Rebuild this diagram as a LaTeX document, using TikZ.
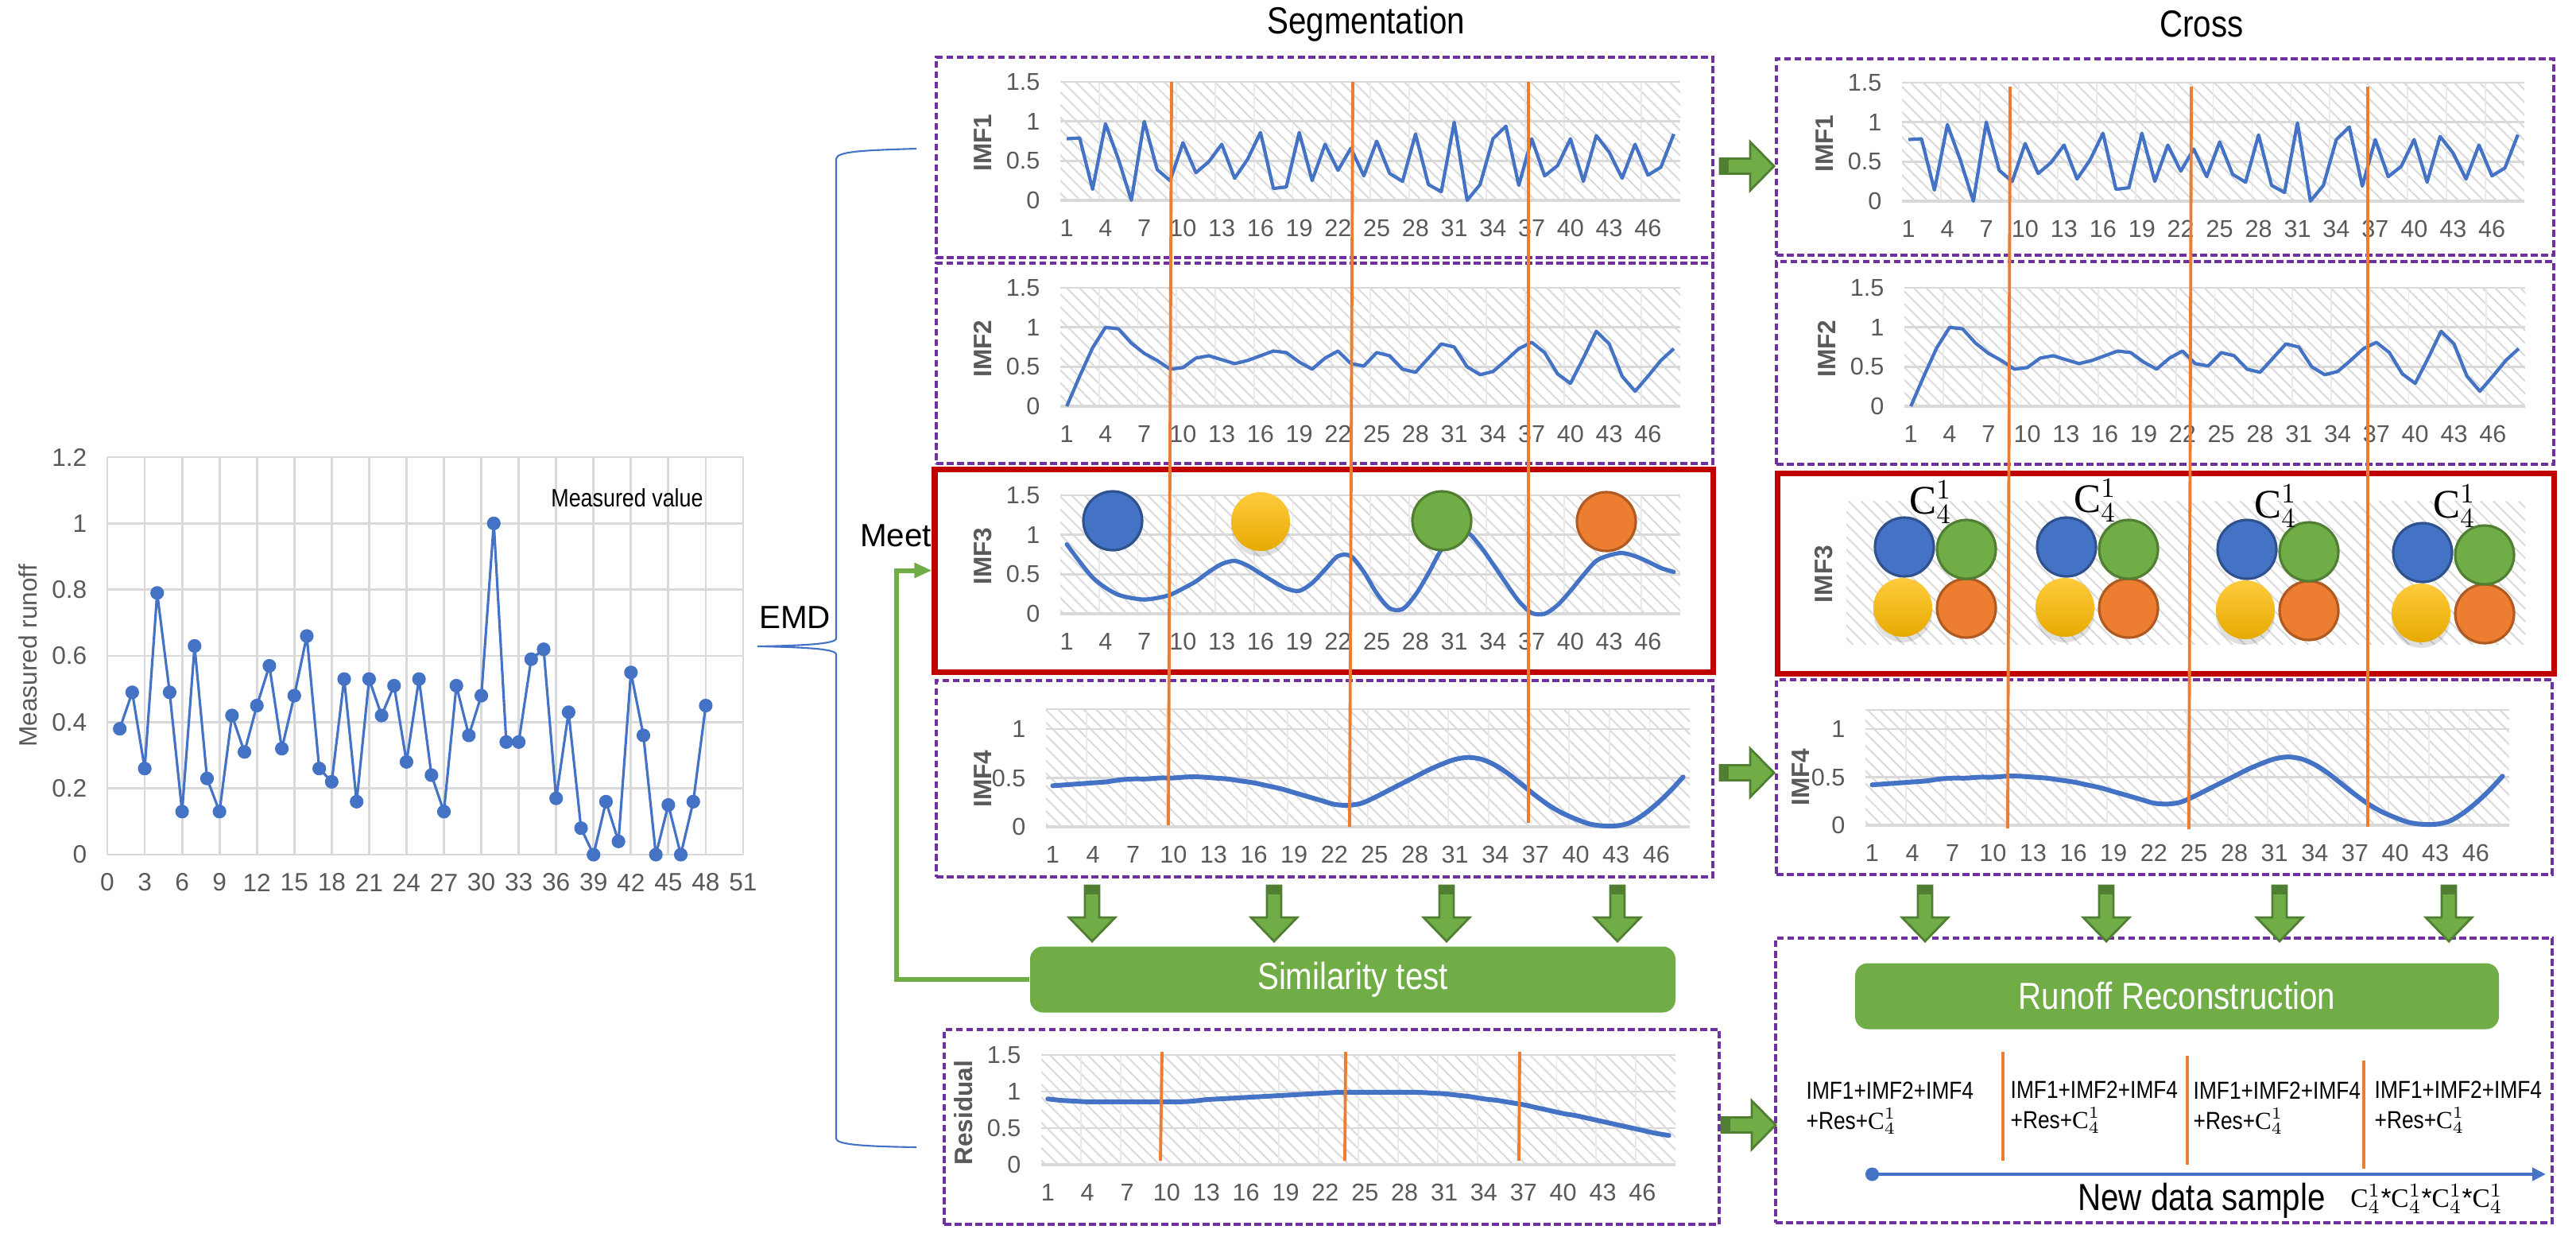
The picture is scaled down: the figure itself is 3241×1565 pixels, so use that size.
\documentclass[tikz,border=0pt]{standalone}
\usepackage{fontspec}
\setmainfont{Liberation Sans}
\newfontfamily\narrowfont[FakeStretch=0.85]{Liberation Sans}
\newfontfamily\combfont{Liberation Serif}
\usetikzlibrary{positioning, fit, arrows.meta, patterns.meta, shadows}

\definecolor{panelpurple}{HTML}{7030A0}
\definecolor{panelred}{HTML}{C00000}
\definecolor{cutorange}{HTML}{ED7D31}
\definecolor{runoffblue}{HTML}{4472C4}
\definecolor{blueedge}{HTML}{2F528F}
\definecolor{testgreen}{HTML}{70AD47}
\definecolor{greenedge}{HTML}{507E32}
\definecolor{orangeedge}{HTML}{AE5A21}
\definecolor{yellowtop}{HTML}{FFCB3D}
\definecolor{yellowbottom}{HTML}{E6AA00}
\definecolor{gridgray}{HTML}{D9D9D9}
\definecolor{labelgray}{HTML}{595959}

\def\runoffdata{{0.38,0.49,0.26,0.79,0.49,0.13,0.63,0.23,0.13,0.42,0.31,0.45,0.57,0.32,0.48,0.66,0.26,0.22,0.53,0.16,0.53,0.42,0.51,0.28,0.53,0.24,0.13,0.51,0.36,0.48,1.0,0.34,0.34,0.59,0.62,0.17,0.43,0.08,0.0,0.16,0.04,0.55,0.36,0.0,0.15,0.0,0.16,0.45}}
\def\imfonedata{{0.78,0.79,0.14,0.97,0.52,0.0,1.0,0.39,0.25,0.73,0.35,0.49,0.71,0.28,0.52,0.86,0.15,0.17,0.86,0.25,0.71,0.38,0.66,0.31,0.75,0.34,0.24,0.84,0.20,0.11,0.99,0.0,0.20,0.78,0.94,0.19,0.78,0.31,0.44,0.78,0.24,0.82,0.61,0.28,0.71,0.32,0.42,0.84}}
\def\imftwodata{{0.0,0.38,0.74,1.0,0.98,0.80,0.67,0.58,0.47,0.49,0.61,0.64,0.59,0.54,0.58,0.64,0.70,0.68,0.56,0.47,0.61,0.70,0.54,0.51,0.68,0.64,0.47,0.43,0.61,0.79,0.75,0.50,0.40,0.44,0.58,0.73,0.81,0.68,0.41,0.29,0.61,0.95,0.79,0.38,0.19,0.38,0.58,0.73}}
\def\imfthreedata{{0.88,0.66,0.46,0.33,0.24,0.20,0.18,0.20,0.24,0.32,0.41,0.53,0.63,0.67,0.61,0.51,0.41,0.32,0.29,0.39,0.56,0.73,0.73,0.53,0.26,0.07,0.06,0.24,0.51,0.81,0.97,1.03,0.86,0.63,0.39,0.16,0.01,0.0,0.11,0.29,0.49,0.67,0.74,0.77,0.73,0.66,0.58,0.53}}
\def\imffourdata{{0.42,0.43,0.44,0.45,0.46,0.48,0.49,0.49,0.50,0.50,0.51,0.51,0.50,0.49,0.47,0.45,0.42,0.39,0.35,0.31,0.27,0.23,0.22,0.24,0.30,0.37,0.44,0.51,0.58,0.64,0.69,0.71,0.69,0.63,0.54,0.43,0.32,0.22,0.14,0.08,0.03,0.01,0.01,0.04,0.12,0.23,0.36,0.51}}
\def\residualdata{{0.90,0.88,0.87,0.86,0.86,0.86,0.86,0.86,0.86,0.86,0.86,0.87,0.89,0.90,0.91,0.92,0.93,0.94,0.95,0.96,0.97,0.98,0.99,0.99,0.99,0.99,0.99,0.99,0.99,0.98,0.97,0.95,0.93,0.90,0.88,0.85,0.82,0.78,0.74,0.70,0.67,0.63,0.59,0.55,0.51,0.47,0.43,0.40}}

\tikzset{
  panel/.style={draw=panelpurple, line width=1.4pt, dash pattern=on 2.5pt off 1.2pt, inner sep=0pt},
  meetpanel/.style={draw=panelred, line width=2pt, inner sep=0pt},
  chart/.style n args={4}{shift={(#1,#2)}, x=#3/48*0.1mm, y=#4*0.1mm},
  hatch/.style={pattern={Lines[angle=-45, distance=3.2pt, line width=0.55pt]}, pattern color=gridgray},
  gridline/.style={draw=gridgray, line width=0.8pt},
  ticklabel/.style={font=\fontsize{8.7}{10}\selectfont, text=labelgray, inner sep=0pt},
  axtitle/.style={font=\bfseries\fontsize{9}{10}\selectfont, text=labelgray, rotate=90, inner sep=0pt},
  imfline/.style={draw=runoffblue, line width=1.2pt, line join=round},
  smoothline/.style={draw=runoffblue, line width=1.7pt, line join=round, line cap=round},
  runoffline/.style={draw=runoffblue, line width=0.9pt, line join=round},
  cut/.style={draw=cutorange, line width=1.1pt},
  ball/.style={circle, minimum size=7.4mm, inner sep=0pt, line width=0.9pt},
  blueball/.style={ball, fill=runoffblue, draw=blueedge},
  greenball/.style={ball, fill=testgreen, draw=greenedge},
  orangeball/.style={ball, fill=cutorange, draw=orangeedge},
  yellowball/.style={ball, drop shadow={opacity=0.12, fill=black, shadow xshift=0pt, shadow yshift=-0.7mm}, top color=yellowtop, bottom color=yellowbottom},
  greenbox/.style={fill=testgreen, rounded corners=1.6mm, text=white, inner sep=0pt, font=\narrowfont\fontsize{13.5}{15}\selectfont},
  heading/.style={inner sep=0pt, font=\narrowfont\fontsize{13.5}{15}\selectfont},
  sidelabel/.style={inner sep=0pt, font=\fontsize{11.5}{13}\selectfont},
  sumtext/.style={anchor=west, align=left, inner sep=0pt, font=\narrowfont\fontsize{8.8}{10.8}\selectfont},
  combo/.style={inner sep=0pt, font=\fontsize{14.5}{16}\selectfont},
  feedback/.style={draw=testgreen, line width=1.7pt, -{Triangle[length=2.2mm, width=1.8mm]}},
  timeline/.style={draw=runoffblue, line width=1.3pt, {Circle[length=1.7mm]}-{Triangle[length=1.7mm, width=1.6mm]}},
  downarrow/.pic={
    \filldraw[fill=testgreen, draw=greenedge, line width=0.8pt]
      (-9,0) -- (-9,40) -- (-29,40) -- (0,70) -- (29,40) -- (9,40) -- (9,0) -- cycle;
    \fill[greenedge] (-9,0) rectangle (9,11);},
  rightarrow/.pic={
    \filldraw[fill=testgreen, draw=greenedge, line width=0.8pt]
      (0,-9.5) -- (38,-9.5) -- (38,-30.5) -- (68,0) -- (38,30.5) -- (38,9.5) -- (0,9.5) -- cycle;
    \fill[greenedge] (0,-9.5) rectangle (11,9.5);}
}

\newcommand\chartframe[2]{%
  \fill[hatch] (0,0) rectangle (48,#1);
  \foreach \k in {3,6,...,45} \draw[gridgray!55, line width=0.5pt] (\k,0) -- (\k,#1);
  \draw[gridgray, line width=0.6pt] (0,#1) -- (48,#1);
  \foreach \t in {#2} {
    \draw[gridline] (0,\t) -- (48,\t);
    \node[ticklabel, anchor=east, xshift=-2.5mm] at (0,\t) {\t};
  }
  \draw[gridgray, line width=1.2pt] (0,0) -- (48,0);
  \foreach \i in {1,4,...,46} \node[ticklabel, yshift=-3.5mm] at (\i-0.5,0) {\i};
}

\begin{document}
\begin{tikzpicture}[x=0.1mm, y=-0.1mm]
\useasboundingbox (0,0) rectangle (3241,1565);

% measured runoff
\begin{scope}[shift={(135,1075)}, x=15.686*0.1mm, y=416.7*0.1mm]
  \foreach \k in {0,3,...,51} {
    \draw[gridline] (\k,0) -- (\k,1.2);
    \node[ticklabel, font=\fontsize{9}{10}\selectfont, yshift=-3.5mm] at (\k,0) {\k};
  }
  \foreach \v in {0,0.2,0.4,0.6,0.8,1,1.2} {
    \draw[gridline] (0,\v) -- (51,\v);
    \node[ticklabel, font=\fontsize{9}{10}\selectfont, anchor=east, xshift=-2.5mm] at (0,\v) {\v};
  }
  \draw[runoffline] plot[mark=*, mark size=0.7mm, mark options={fill=runoffblue, draw=runoffblue}, samples at={1,...,48}] (\x,{\runoffdata[int(\x)-1]});
\end{scope}
\node[ticklabel, font=\fontsize{9}{10}\selectfont, rotate=90] (runoffaxis) at (35,825) {Measured runoff};
\node[inner sep=0pt, font=\narrowfont\fontsize{9}{10}\selectfont] (measured) at (789,626) {Measured value};

% headings
\node[heading] (segtitle) at (1719,30) {Segmentation};
\node[heading] (crosstitle) at (2770,30) {Cross};

% segmentation charts
\begin{scope}[chart={1334}{252}{780}{99.3}]
  \chartframe{1.5}{0,0.5,1,1.5}
  \draw[imfline] plot[samples at={1,...,48}] (\x-0.5,{\imfonedata[int(\x)-1]});
  \node[axtitle] (segonetitle) at (-6,0.73) {IMF1};
\end{scope}
\begin{scope}[chart={1334}{511}{780}{99.3}]
  \chartframe{1.5}{0,0.5,1,1.5}
  \draw[imfline] plot[samples at={1,...,48}] (\x-0.5,{\imftwodata[int(\x)-1]});
  \node[axtitle] (segtwotitle) at (-6,0.73) {IMF2};
\end{scope}
\begin{scope}[chart={1334}{772}{780}{99.3}]
  \chartframe{1.5}{0,0.5,1,1.5}
  \draw[smoothline, line width=1.5pt] plot[smooth, samples at={1,...,48}] (\x-0.5,{\imfthreedata[int(\x)-1]});
  \node[axtitle] (segthreetitle) at (-6,0.73) {IMF3};
\end{scope}
\begin{scope}[chart={1316}{1040}{810}{123}]
  \chartframe{1.2}{0,0.5,1}
  \draw[smoothline] plot[smooth, samples at={1,...,48}] (\x-0.5,{\imffourdata[int(\x)-1]});
  \node[axtitle] (segfourtitle) at (-4.7,0.49) {IMF4};
\end{scope}
\begin{scope}[chart={1310}{1465}{798}{92}]
  \chartframe{1.5}{0,0.5,1,1.5}
  \draw[smoothline] plot[smooth, samples at={1,...,48}] (\x-0.5,{\residualdata[int(\x)-1]});
  \node[axtitle] (restitle) at (-5.9,0.71) {Residual};
\end{scope}

% cross charts
\begin{scope}[chart={2393}{253}{783}{99.3}]
  \chartframe{1.5}{0,0.5,1,1.5}
  \draw[imfline] plot[samples at={1,...,48}] (\x-0.5,{\imfonedata[int(\x)-1]});
  \node[axtitle] (crossonetitle) at (-6,0.73) {IMF1};
\end{scope}
\begin{scope}[chart={2396}{511}{781}{99.3}]
  \chartframe{1.5}{0,0.5,1,1.5}
  \draw[imfline] plot[samples at={1,...,48}] (\x-0.5,{\imftwodata[int(\x)-1]});
  \node[axtitle] (crosstwotitle) at (-6,0.73) {IMF2};
\end{scope}
\begin{scope}[chart={2347}{1038}{810}{121}]
  \chartframe{1.2}{0,0.5,1}
  \draw[smoothline] plot[smooth, samples at={1,...,48}] (\x-0.5,{\imffourdata[int(\x)-1]});
  \node[axtitle] (crossfourtitle) at (-4.8,0.5) {IMF4};
\end{scope}
\fill[hatch] (2323,630) rectangle (3177,810);
\node[axtitle] (crossthreetitle) at (2295,722) {IMF3};

% panels
\node[panel, fit={(1178,72) (2155,324)}] (segimfone) {};
\node[panel, fit={(1178,331) (2155,583)}] (segimftwo) {};
\node[meetpanel, fit={(1176,590) (2155,845)}] (segimfthree) {};
\node[panel, fit={(1178,856) (2155,1103)}] (segimffour) {};
\node[panel, fit={(1188,1295) (2163,1540)}] (segres) {};
\node[panel, fit={(2235,74) (3213,321)}] (crossimfone) {};
\node[panel, fit={(2235,329) (3213,584)}] (crossimftwo) {};
\node[meetpanel, fit={(2236,595) (3213,847)}] (crossimfthree) {};
\node[panel, fit={(2235,855) (3211,1100)}] (crossimffour) {};
\node[panel, fit={(2234,1180) (3211,1538)}] (rebuild) {};

% segment cuts
\draw[cut] (1474,103) -- (1470,1038);
\draw[cut] (1702,103) -- (1698,1040);
\draw[cut] (1923,103) -- (1923,1035);
\draw[cut] (1462,1323) -- (1460,1460);
\draw[cut] (1693,1323) -- (1692,1460);
\draw[cut] (1912,1323) -- (1911,1460);
\draw[cut] (2529,109) -- (2526,1042);
\draw[cut] (2757,109) -- (2754,1043);
\draw[cut] (2979,109) -- (2979,1040);
\draw[cut] (2520,1323) -- (2520,1460);
\draw[cut] (2752,1328) -- (2752,1465);
\draw[cut] (2974,1334) -- (2974,1470);

% classes of IMF3
\node[blueball] (segblue) at (1400,655) {};
\node[yellowball] (segyellow) at (1586,656) {};
\node[greenball] (seggreen) at (1814,655) {};
\node[orangeball] (segorange) at (2021,656) {};
\foreach \bx/\by/\cx/\cy [count=\g] in {2396/688/2429/632, 2600/688/2636/630, 2827/691/2863/637, 3048/695/3088/637} {
  \node[yellowball] (yellow\g) at (\bx-2,\by+76) {};
  \node[orangeball] (orange\g) at (\bx+78,\by+77) {};
  \node[blueball] (blue\g) at (\bx,\by) {};
  \node[greenball] (green\g) at (\bx+78,\by+3) {};
  \node[combo] (pick\g) at (\cx,\cy) {{\combfont C}$_4^1$};
}

% EMD brace
\coordinate (bracetop) at (1153,187);
\coordinate (bracetip) at (953,813);
\coordinate (bracebot) at (1153,1443);
\draw[runoffblue, line width=0.6pt] (bracetop) .. controls (1090,189) and (1052,190) .. (1052,200)
  -- (1052,803) .. controls (1052,810) and (1010,812) .. (bracetip)
  .. controls (1010,814) and (1052,816) .. (1052,823)
  -- (1052,1432) .. controls (1052,1440) and (1090,1442) .. (bracebot);
\node[sidelabel] (emd) at (1000,777) {EMD};

% tests and reconstruction
\node[greenbox, minimum width=81.2mm, minimum height=8.3mm] (simtest) at (1702,1232) {Similarity test};
\node[greenbox, minimum width=81mm, minimum height=8.3mm] (runoff) at (2739,1253) {Runoff Reconstruction};
\foreach \ax in {1374,1603,1820,2035,2422,2650,2868,3081} \pic at (\ax,1114) {downarrow};
\pic at (2164,209) {rightarrow};
\pic at (2164,972) {rightarrow};
\pic at (2166,1415) {rightarrow};

\draw[feedback] (simtest.west) -- ++(-167,0) |- (segimfthree.west);
\node[sidelabel] (meet) at (1127,674) {Meet};

\node[sumtext] (sumone) at (2272,1394) {IMF1+IMF2+IMF4\\+Res+{\combfont C}$_4^1$};
\node[sumtext] (sumtwo) at (2529,1393) {IMF1+IMF2+IMF4\\+Res+{\combfont C}$_4^1$};
\node[sumtext] (sumthree) at (2759,1394) {IMF1+IMF2+IMF4\\+Res+{\combfont C}$_4^1$};
\node[sumtext] (sumfour) at (2987,1393) {IMF1+IMF2+IMF4\\+Res+{\combfont C}$_4^1$};

\coordinate (tstart) at (2347,1477);
\coordinate (tend) at (3203,1477);
\draw[timeline] (tstart) -- (tend);
\node[heading] (newsample) at (2770,1510) {New data sample};
\node[inner sep=0pt, font=\fontsize{9.5}{11}\selectfont] (combos) at (3053,1508)
  {{\combfont C}$_4^1$*{\combfont C}$_4^1$*{\combfont C}$_4^1$*{\combfont C}$_4^1$};
\end{tikzpicture}
\end{document}
